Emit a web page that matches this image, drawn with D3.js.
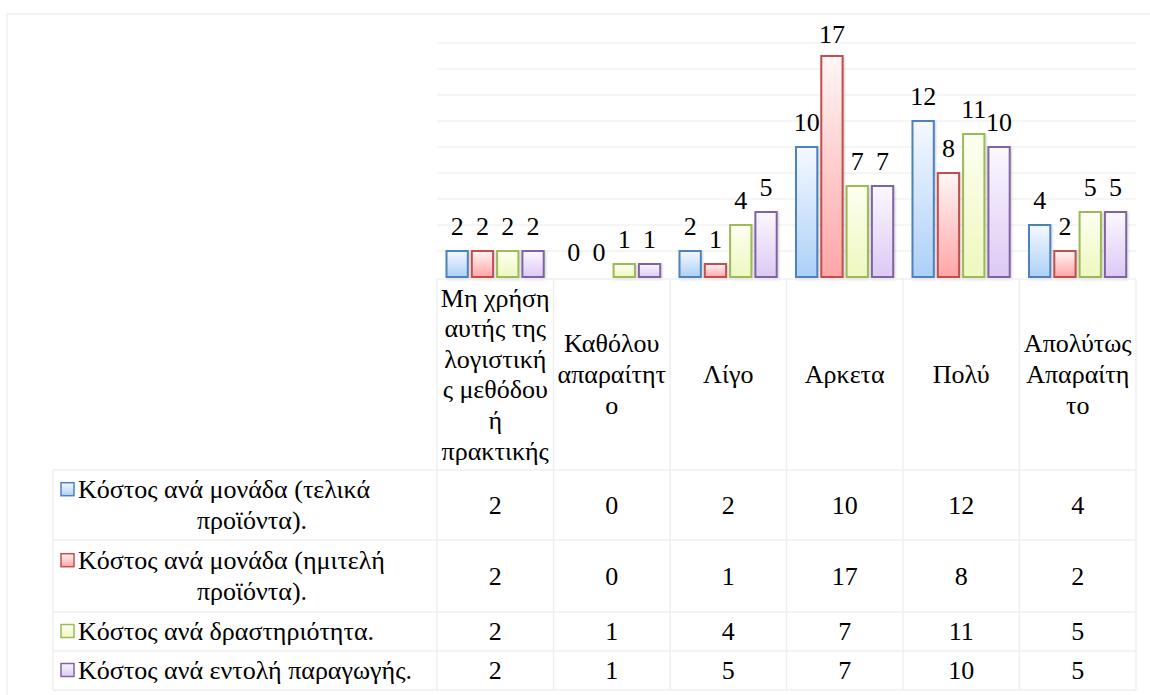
<!DOCTYPE html>
<html>
<head>
<meta charset="utf-8">
<script src="https://cdn.jsdelivr.net/npm/d3@7"></script>
<style>
  body { margin: 0; background: #fff; }
  svg text { font-family: 'Liberation Serif', 'DejaVu Serif', 'Noto Serif', serif; }
</style>
</head>
<body>
<svg id="chart" width="1150" height="695"></svg>
<script>
var categories = ['Μη χρήση αυτής της λογιστικής μεθόδου ή πρακτικής', 'Καθόλου απαραίτητο', 'Λίγο', 'Αρκετα', 'Πολύ', 'Απολύτως Απαραίτητο']
var categoryLines = [
  ['Μη χρήση', 'αυτής της', 'λογιστική', 'ς μεθόδου', 'ή', 'πρακτικής'],
  ['Καθόλου', 'απαραίτητ', 'ο'],
  ['Λίγο'],
  ['Αρκετα'],
  ['Πολύ'],
  ['Απολύτως', 'Απαραίτη', 'το']
]
var seriesNames = ['Κόστος ανά μονάδα (τελικά προϊόντα).', 'Κόστος ανά μονάδα (ημιτελή προϊόντα).', 'Κόστος ανά δραστηριότητα.', 'Κόστος ανά εντολή παραγωγής.']
var seriesLines = [
  ['Κόστος ανά μονάδα (τελικά', 'προϊόντα).'],
  ['Κόστος ανά μονάδα (ημιτελή', 'προϊόντα).'],
  ['Κόστος ανά δραστηριότητα.'],
  ['Κόστος ανά εντολή παραγωγής.']
]
var unitCostFinal = [2, 0, 2, 10, 12, 4]
var unitCostSemi = [2, 0, 1, 17, 8, 2]
var activityCost = [2, 1, 4, 7, 11, 5]
var orderCost = [2, 1, 5, 7, 10, 5]
var yTicks = [0, 2, 4, 6, 8, 10, 12, 14, 16, 18]

var values = [unitCostFinal, unitCostSemi, activityCost, orderCost]
var colors = [
  { stroke: '#4f81bd', top: '#f5f9ff', bottom: '#acd0f7' },
  { stroke: '#c0504d', top: '#fff6f6', bottom: '#ffa6a6' },
  { stroke: '#9bbb59', top: '#fdfff2', bottom: '#eef8bf' },
  { stroke: '#8064a2', top: '#fbf8ff', bottom: '#ddc9f4' }
]

var fontSize = 26
var lineH = 30.6
var plotLeft = 437, plotRight = 1136, plotTop = 43, plotBase = 277
var tableLeft = 53
var headTop = 279
var rowEdges = [470, 540, 612, 651, 690]

var svg = d3.select('svg#chart')

// gradients
var defs = svg.append('defs')
colors.forEach(function (c, i) {
  var g = defs.append('linearGradient').attr('id', 'grad' + i)
    .attr('x1', 0).attr('y1', 0).attr('x2', 0).attr('y2', 1)
  g.append('stop').attr('offset', '0%').attr('stop-color', c.top)
  g.append('stop').attr('offset', '100%').attr('stop-color', c.bottom)
})
var shadow = defs.append('filter').attr('id', 'shadow')
  .attr('x', '-20%').attr('y', '-20%').attr('width', '150%').attr('height', '150%')
shadow.append('feDropShadow').attr('dx', 1).attr('dy', 1.5).attr('stdDeviation', 1)
  .attr('flood-color', '#000').attr('flood-opacity', 0.2)

// outer border
svg.append('rect').attr('x', 7).attr('y', 14).attr('width', 1160).attr('height', 700)
  .attr('fill', 'none').attr('stroke', '#f0f0f0').attr('stroke-width', 1.5)

var x = d3.scaleBand().domain(categories).range([plotLeft, plotRight])
var x1 = d3.scaleBand().domain(d3.range(4)).range([9.5, 106.7]).paddingInner(0.158)
var y = d3.scaleLinear().domain([0, 18]).range([plotBase, plotTop])

// gridlines
svg.append('g').selectAll('line').data(yTicks.slice(1)).enter().append('line')
  .attr('x1', plotLeft).attr('x2', plotRight)
  .attr('y1', function (d) { return y(d) }).attr('y2', function (d) { return y(d) })
  .attr('stroke', '#f2f2f2').attr('stroke-width', 1.5)

// bars
var groups = svg.append('g').selectAll('g').data(categories).enter().append('g')
  .attr('transform', function (d) { return 'translate(' + x(d) + ',0)' })

groups.each(function (cat, ci) {
  var g = d3.select(this)
  var rows = values.map(function (v, si) { return { s: si, v: v[ci] } })
  g.selectAll('rect').data(rows.filter(function (d) { return d.v > 0 })).enter().append('rect')
    .attr('x', function (d) { return x1(d.s) })
    .attr('y', function (d) { return y(d.v) })
    .attr('width', x1.bandwidth())
    .attr('height', function (d) { return plotBase - y(d.v) })
    .attr('fill', function (d) { return 'url(#grad' + d.s + ')' })
    .attr('stroke', function (d) { return colors[d.s].stroke })
    .attr('stroke-width', 2)
    .attr('filter', 'url(#shadow)')
  g.selectAll('text.lbl').data(rows).enter().append('text').attr('class', 'lbl')
    .attr('x', function (d) { return x1(d.s) + x1.bandwidth() / 2 })
    .attr('y', function (d) { return Math.max(y(d.v) - 16.5, y(18)) })
    .attr('text-anchor', 'middle')
    .attr('font-size', fontSize)
    .text(function (d) { return d.v })
})

// data table grid
var grid = svg.append('g').attr('stroke', '#efefef').attr('stroke-width', 1.5)
grid.append('line').attr('x1', plotLeft).attr('x2', plotRight).attr('y1', headTop).attr('y2', headTop)
rowEdges.forEach(function (ry) {
  grid.append('line').attr('x1', tableLeft).attr('x2', plotRight).attr('y1', ry).attr('y2', ry)
})
x.domain().forEach(function (c) {
  grid.append('line').attr('x1', x(c)).attr('x2', x(c)).attr('y1', headTop).attr('y2', rowEdges[4])
})
grid.append('line').attr('x1', plotRight).attr('x2', plotRight).attr('y1', headTop).attr('y2', rowEdges[4])
grid.append('line').attr('x1', tableLeft).attr('x2', tableLeft).attr('y1', rowEdges[0]).attr('y2', rowEdges[4])

// header cells (category names)
var headMid = (headTop + rowEdges[0]) / 2
categories.forEach(function (c, ci) {
  var lines = categoryLines[ci]
  var t = svg.append('text').attr('text-anchor', 'middle').attr('font-size', fontSize)
  lines.forEach(function (ln, li) {
    t.append('tspan').attr('x', x(c) + x.bandwidth() / 2)
      .attr('y', headMid + (li - (lines.length - 1) / 2) * lineH)
      .attr('dy', '0.33em')
      .text(ln)
  })
})

// series rows
seriesNames.forEach(function (s, si) {
  var mid = (rowEdges[si] + rowEdges[si + 1]) / 2
  var lines = seriesLines[si]
  var y0 = mid - (lines.length - 1) / 2 * lineH
  // legend key
  svg.append('rect').attr('x', 61).attr('y', y0 - 7).attr('width', 13).attr('height', 13)
    .attr('fill', 'url(#grad' + si + ')').attr('stroke', colors[si].stroke).attr('stroke-width', 1.5)
  lines.forEach(function (ln, li) {
    svg.append('text')
      .attr('x', li == 0 ? 78 : 252)
      .attr('y', y0 + li * lineH)
      .attr('dy', '0.33em')
      .attr('text-anchor', li == 0 ? 'start' : 'middle')
      .attr('font-size', fontSize)
      .text(ln)
  })
  categories.forEach(function (c, ci) {
    svg.append('text')
      .attr('x', x(c) + x.bandwidth() / 2)
      .attr('y', mid)
      .attr('dy', '0.33em')
      .attr('text-anchor', 'middle')
      .attr('font-size', fontSize)
      .text(values[si][ci])
  })
})
</script>
</body>
</html>
